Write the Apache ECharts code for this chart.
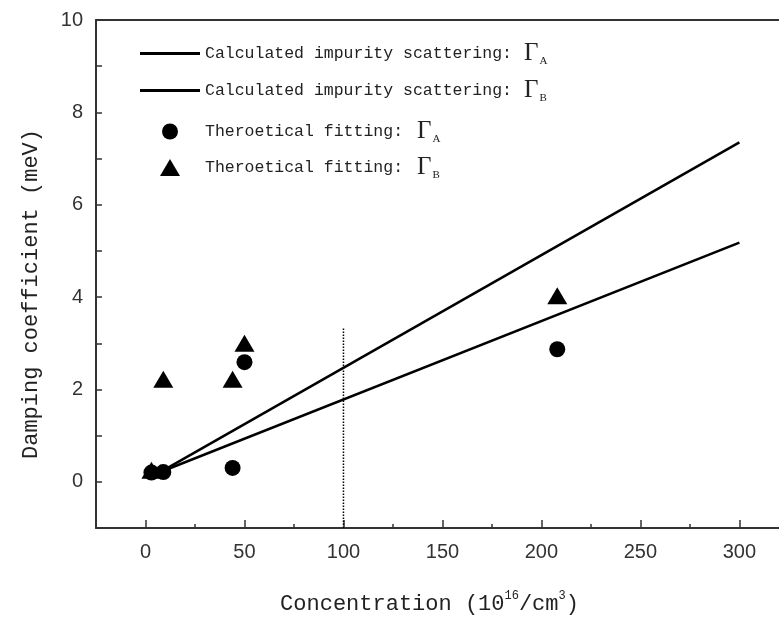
<!DOCTYPE html>
<html style="height: 100%">
<head>
    <meta charset="utf-8">
    <title>Damping coefficient vs concentration</title>
    <script src="https://cdn.jsdelivr.net/npm/echarts@6/dist/echarts.min.js"></script>
</head>
<body style="height: 100%; margin: 0; background: #fff">
    <div id="main" style="width: 779px; height: 621px"></div>
    <script type="text/javascript">
        // data
        var calcX = [5, 300];
        var calcA = [0.17, 5.18];
        var calcB = [0.15, 7.35];

        var fitX = [3, 9, 44, 50, 208];
        var fitA = [0.2, 0.21, 0.3, 2.59, 2.87];
        var fitB = [0.25, 2.22, 2.22, 3.0, 4.03];

        var dotX = [100, 100];
        var dotY = [-1, 3.35];

        var xMajor = [0, 50, 100, 150, 200, 250, 300];
        var xMinor = [25, 75, 125, 175, 225, 275];
        var yLabels = [0, 2, 4, 6, 8, 10];

        var tagX = [304, 304];
        var tagY = [6.35, 4.28];
        var tagSub = ['B', 'A'];

        var names = ['calcA', 'calcB', 'fitA', 'fitB'];
        var legendText = {
            calcA: '{t|Calculated impurity scattering:}{g|Γ}{s|A}',
            calcB: '{t|Calculated impurity scattering:}{g|Γ}{s|B}',
            fitA: '{sp| }{t|Theroetical fitting:}{h|Γ}{s|A}',
            fitB: '{sp| }{t|Theroetical fitting:}{h|Γ}{s|B}'
        };
        // per-row legend layout: [left, top, itemWidth, itemHeight, icon]
        var legendBox = [
            [140, 41, 60, 3, 'rect'],
            [140, 78, 60, 3, 'rect'],
            [162, 119, 16, 16, 'circle'],
            [160, 155, 20, 17, 'triangle']
        ];

        function zip(xs, ys) {
            return xs.map(function (x, i) { return [x, ys[i]]; });
        }

        var mono = "'Liberation Mono', monospace";
        var serif = "'Liberation Serif', serif";

        var myChart = echarts.init(document.getElementById('main'));

        var option = {
            animation: false,
            backgroundColor: '#fff',
            grid: { left: 96, top: 20, right: 0, bottom: 93 },
            legend: names.map(function (n, i) {
                var b = legendBox[i];
                // text should start at x=205 for every row
                var pad = 205 - (b[0] + b[2] + 5);
                return {
                    data: [{ name: n, icon: b[4] }],
                    left: b[0],
                    top: b[1],
                    padding: 0,
                    itemWidth: b[2],
                    itemHeight: b[3],
                    selectedMode: false,
                    formatter: function (name) { return legendText[name]; },
                    textStyle: {
                        rich: {
                            sp: { width: pad, lineHeight: 26 },
                            t: { fontFamily: mono, fontSize: 16.5, color: '#222', lineHeight: 26 },
                            g: { fontFamily: serif, fontSize: 25, color: '#222', lineHeight: 26, padding: [0, 0, 0, 12] },
                            h: { fontFamily: serif, fontSize: 25, color: '#222', lineHeight: 26, padding: [0, 0, 0, 14] },
                            s: { fontFamily: serif, fontSize: 11, color: '#222', verticalAlign: 'bottom', lineHeight: 26, padding: [10, 0, 0, 1] }
                        }
                    }
                };
            }),
            xAxis: [
                {
                    type: 'value', min: -25, max: 320, position: 'bottom',
                    axisLine: { onZero: false, lineStyle: { color: '#333', width: 2 } },
                    axisTick: { inside: true, length: 8, customValues: xMajor, lineStyle: { color: '#333', width: 1.5 } },
                    axisLabel: { customValues: xMajor, fontSize: 20, color: '#333', margin: 14, fontFamily: "'Liberation Sans', sans-serif" },
                    splitLine: { show: false },
                    name: '{n|Concentration (10}{p|16}{n|/cm}{p|3}{n|)}',
                    nameLocation: 'middle',
                    nameGap: 62,
                    nameTextStyle: {
                        padding: [0, 16, 0, 0],
                        rich: {
                            n: { fontFamily: mono, fontSize: 22, color: '#222', lineHeight: 28 },
                            p: { fontFamily: mono, fontSize: 12, color: '#222', verticalAlign: 'top', lineHeight: 28, padding: [0, 0, 10, 0] }
                        }
                    }
                },
                {
                    type: 'value', min: -25, max: 320, position: 'bottom',
                    axisLine: { show: false, onZero: false },
                    axisTick: { inside: true, length: 4, customValues: xMinor, lineStyle: { color: '#333', width: 1.5 } },
                    axisLabel: { show: false },
                    splitLine: { show: false }
                },
                {
                    type: 'value', min: -25, max: 320, position: 'top',
                    axisLine: { onZero: false, lineStyle: { color: '#333', width: 2 } },
                    axisTick: { show: false },
                    axisLabel: { show: false },
                    splitLine: { show: false }
                }
            ],
            yAxis: {
                type: 'value', min: -1, max: 10, interval: 1,
                axisLine: { show: true, onZero: false, lineStyle: { color: '#333', width: 2 } },
                axisTick: { inside: true, length: 6, lineStyle: { color: '#333', width: 1.5 } },
                axisLabel: { customValues: yLabels, fontSize: 20, color: '#333', margin: 13, fontFamily: "'Liberation Sans', sans-serif" },
                splitLine: { show: false },
                name: 'Damping coefficient (meV)',
                nameLocation: 'middle',
                nameGap: 54,
                nameTextStyle: { fontFamily: mono, fontSize: 22, color: '#222', padding: [0, 40, 0, 0] }
            },
            series: [
                {
                    name: 'calcA', type: 'line', symbol: 'none', showSymbol: false,
                    data: zip(calcX, calcA),
                    lineStyle: { color: '#000', width: 2.5 }, itemStyle: { color: '#000' }
                },
                {
                    name: 'calcB', type: 'line', symbol: 'none', showSymbol: false,
                    data: zip(calcX, calcB),
                    lineStyle: { color: '#000', width: 2.5 }, itemStyle: { color: '#000' }
                },
                {
                    name: 'fitA', type: 'scatter', symbol: 'circle', symbolSize: 16,
                    data: zip(fitX, fitA),
                    itemStyle: { color: '#000', opacity: 1 }
                },
                {
                    name: 'fitB', type: 'scatter', symbol: 'triangle', symbolSize: [20, 17],
                    data: zip(fitX, fitB),
                    itemStyle: { color: '#000', opacity: 1 }
                },
                {
                    name: 'ref100', type: 'line', symbol: 'none', silent: true,
                    data: zip(dotX, dotY),
                    lineStyle: { color: '#000', width: 1.5, type: 'dotted' }
                },
                {
                    name: 'tags', type: 'scatter', symbolSize: 1, silent: true,
                    itemStyle: { opacity: 0 },
                    data: zip(tagX, tagY),
                    label: {
                        show: true, position: 'inside',
                        formatter: function (p) { return '{g|Γ}{s|' + tagSub[p.dataIndex] + '}'; },
                        rich: {
                            g: { fontFamily: serif, fontSize: 27, color: '#222', lineHeight: 28 },
                            s: { fontFamily: serif, fontSize: 12, color: '#222', verticalAlign: 'bottom', lineHeight: 28, padding: [12, 0, 0, 1] }
                        }
                    }
                }
            ]
        };

        myChart.setOption(option);
    </script>
</body>
</html>
